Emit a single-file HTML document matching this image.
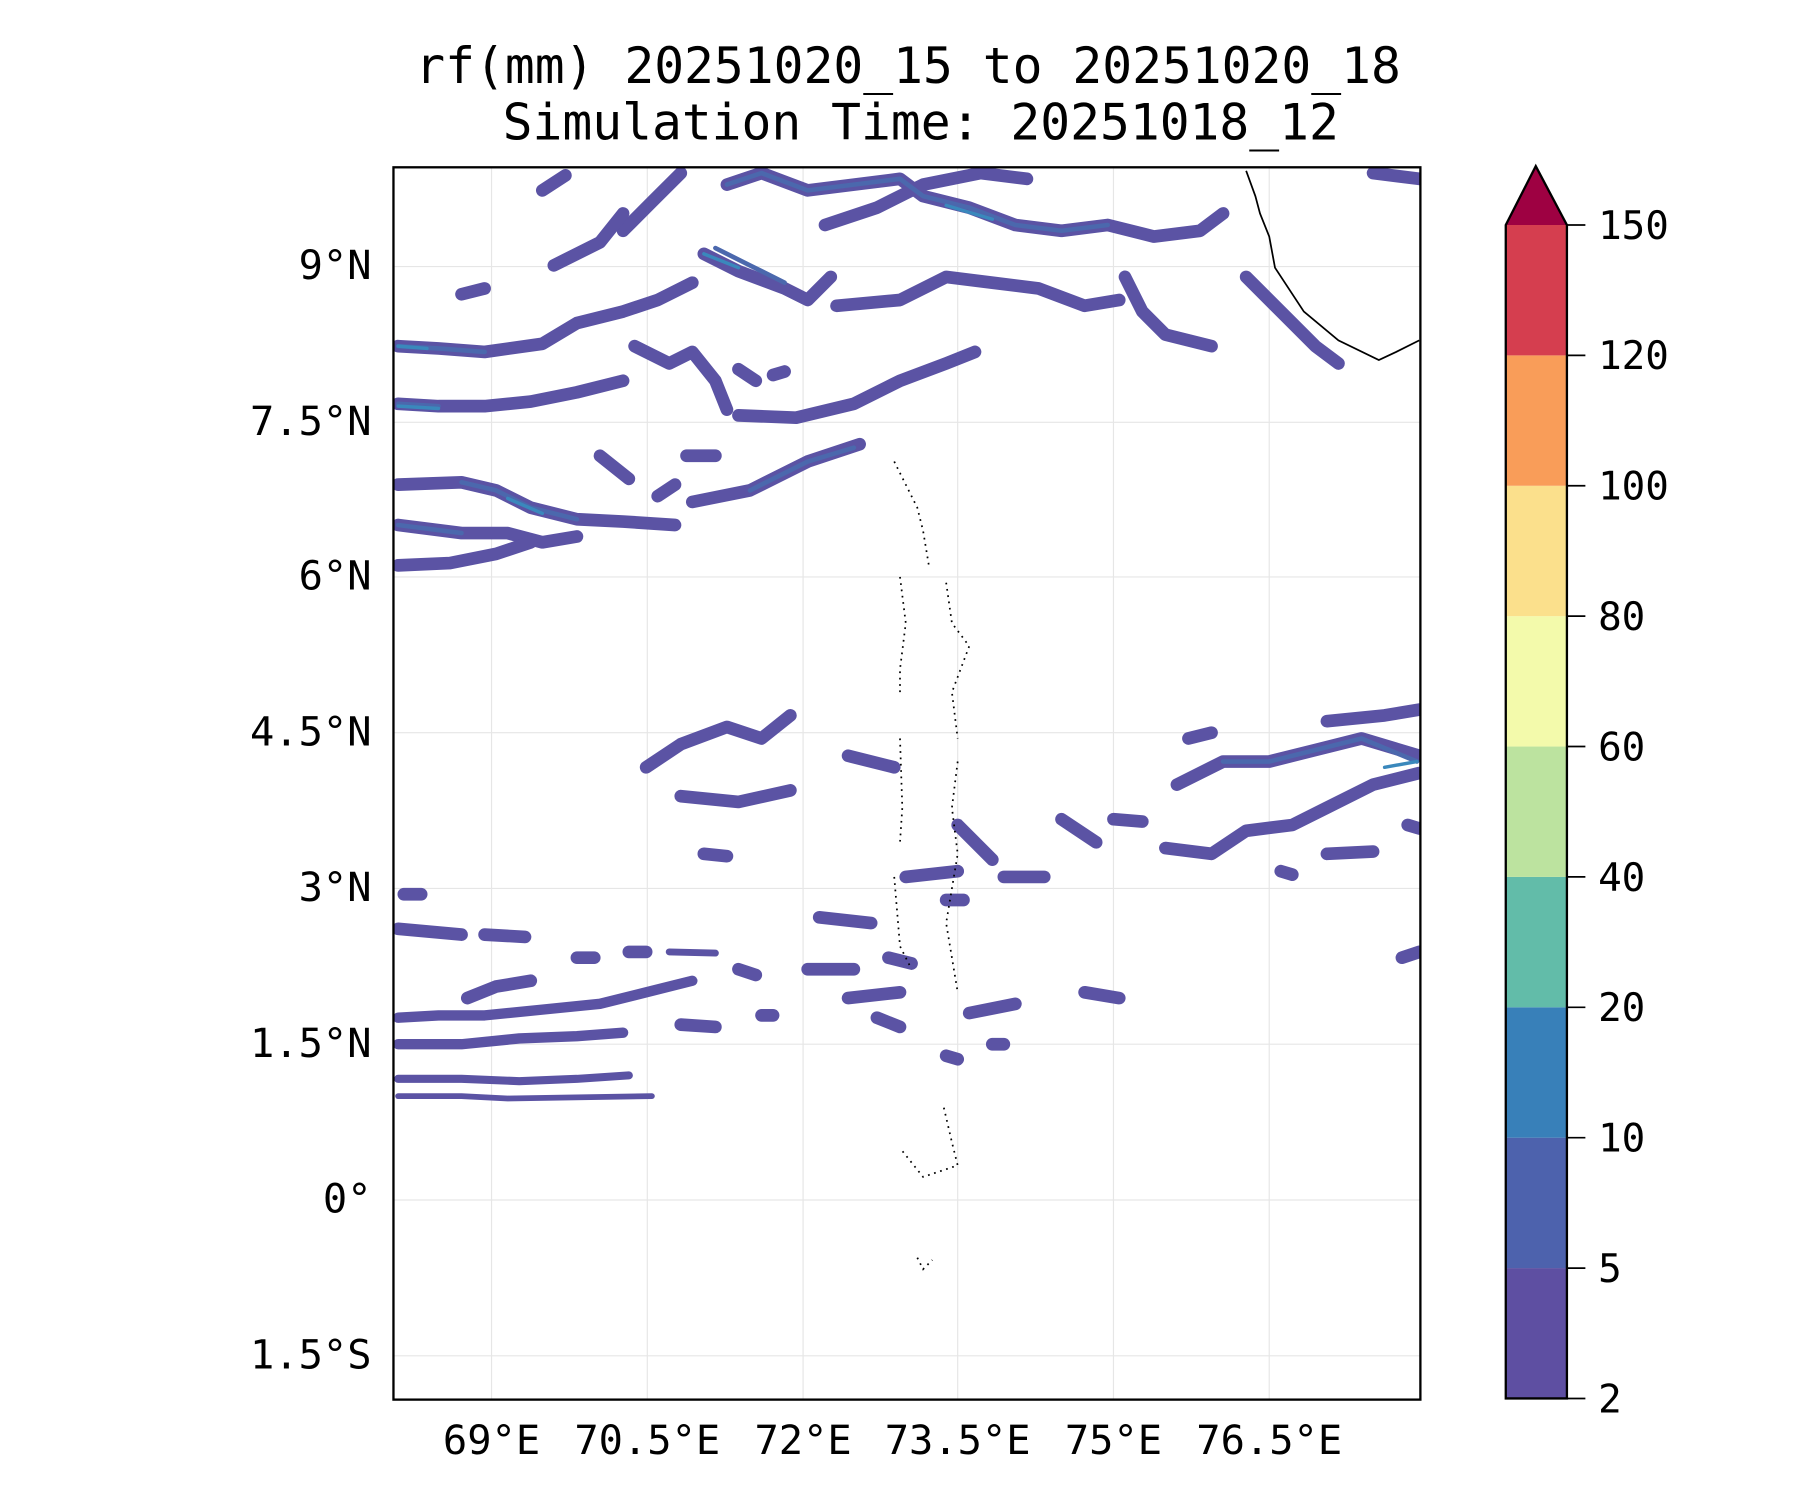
<!DOCTYPE html>
<html><head><meta charset="utf-8"><style>html,body{margin:0;padding:0;background:#fff}svg{display:block}</style></head>
<body>
<svg width="1800" height="1500" viewBox="0 0 1560 1300" xmlns="http://www.w3.org/2000/svg" font-family="DejaVu Sans Mono, Liberation Mono, monospace">
<rect width="1560" height="1300" fill="#fff"/>
<text x="787" y="72" font-size="43" text-anchor="middle">rf(mm) 20251020_15 to 20251020_18</text>
<text x="798" y="121" font-size="43" text-anchor="middle">Simulation Time: 20251018_12</text>
<defs><clipPath id="c"><rect x="341" y="145" width="890" height="1068"/></clipPath></defs>
<g stroke="#e6e6e6" stroke-width="1">
<line x1="426" y1="145" x2="426" y2="1213"/><line x1="561" y1="145" x2="561" y2="1213"/><line x1="696" y1="145" x2="696" y2="1213"/><line x1="830" y1="145" x2="830" y2="1213"/><line x1="965" y1="145" x2="965" y2="1213"/><line x1="1100" y1="145" x2="1100" y2="1213"/>
<line x1="341" y1="231" x2="1231" y2="231"/><line x1="341" y1="366" x2="1231" y2="366"/><line x1="341" y1="500" x2="1231" y2="500"/><line x1="341" y1="635" x2="1231" y2="635"/><line x1="341" y1="770" x2="1231" y2="770"/><line x1="341" y1="905" x2="1231" y2="905"/><line x1="341" y1="1040" x2="1231" y2="1040"/><line x1="341" y1="1175" x2="1231" y2="1175"/>
</g>
<g clip-path="url(#c)" fill="none" stroke-linecap="round" stroke-linejoin="round">
<g stroke="#5b53a4" stroke-width="11">
<polyline points="540,200 565,175 590,150"/><polyline points="470,165 490,152"/>
<polyline points="630,160 660,150 700,165 740,160 780,155 800,170 840,180 880,195 920,200 960,195 1000,205 1040,200 1060,185"/>
<polyline points="715,195 760,180 800,160 850,150 890,155"/>
<polyline points="610,220 640,235 680,250 700,260 720,240"/>
<polyline points="725,265 780,260 820,240 860,245 900,250 940,265 970,260"/>
<polyline points="975,240 990,270 1010,290 1050,300"/>
<polyline points="1080,240 1110,270 1140,300 1160,315"/>
<polyline points="345,300 380,302 420,305 470,298 500,280 540,270 570,260 600,245"/>
<polyline points="480,230 520,210 540,185"/><polyline points="400,255 420,250"/>
<polyline points="345,350 380,352 420,352 460,348 500,340 540,330"/>
<polyline points="550,300 580,315 600,305 620,330 630,355"/>
<polyline points="640,360 690,362 740,350 780,330 820,315 845,305"/>
<polyline points="345,420 400,418 430,425 460,440 500,450 540,452 585,455"/>
<polyline points="600,435 650,425 700,400 745,385"/>
<polyline points="345,455 400,462 440,462 470,470 500,465"/>
<polyline points="345,490 390,488 430,480 460,470"/>
<polyline points="520,395 545,415"/><polyline points="1190,150 1230,155"/>
<polyline points="640,320 655,330"/><polyline points="670,325 680,322"/><polyline points="595,395 620,395"/><polyline points="570,430 585,420"/>
<polyline points="560,665 590,645 630,630 660,640 685,620"/>
<polyline points="590,690 640,695 685,685"/><polyline points="735,655 775,665"/>
<polyline points="920,710 950,730"/><polyline points="965,710 990,712"/>
<polyline points="1010,735 1050,740 1080,720 1120,715 1150,700 1190,680 1230,670"/>
<polyline points="1020,680 1060,660 1100,660 1140,650 1180,640 1230,655"/>
<polyline points="1030,640 1050,635"/><polyline points="1150,625 1200,620 1230,615"/>
<polyline points="1150,740 1190,738"/><polyline points="785,760 830,755"/>
<polyline points="710,795 755,800"/><polyline points="345,805 400,810"/><polyline points="420,810 455,812"/>
<polyline points="350,775 365,775"/><polyline points="405,865 430,855 460,850"/>
<polyline points="345,882 380,880 420,880 470,875 520,870 560,860 600,850" stroke-width="9"/>
<polyline points="345,905 400,905 450,900 500,898 540,895" stroke-width="9"/>
<polyline points="345,935 400,935 450,937 500,935 545,932" stroke-width="7"/>
<polyline points="345,950 400,950 440,952 565,950" stroke-width="5"/>
<polyline points="500,830 515,830"/><polyline points="545,825 560,825"/><polyline points="580,825 620,826" stroke-width="6"/>
<polyline points="640,840 655,845"/><polyline points="700,840 740,840"/><polyline points="735,865 780,860"/>
<polyline points="590,888 620,890"/><polyline points="760,882 780,890"/><polyline points="820,780 835,780"/>
<polyline points="830,715 860,745"/><polyline points="870,760 905,760"/><polyline points="820,915 830,918"/>
<polyline points="940,860 970,865"/><polyline points="860,905 870,905"/><polyline points="840,878 880,870"/>
<polyline points="660,880 670,880"/><polyline points="1110,755 1120,758"/><polyline points="770,830 790,835"/>
<polyline points="1220,715 1230,718"/><polyline points="1215,830 1230,825"/><polyline points="610,740 630,742"/>
</g>
<g stroke="#4b68ad" stroke-width="4">
<polyline points="630,160 660,150 700,165 740,160 780,155 800,170 840,180 880,195 920,200 960,195"/>
<polyline points="345,300 380,302 420,305"/><polyline points="345,350 380,352"/>
<polyline points="400,418 430,425 460,440 500,450"/><polyline points="620,215 650,230 680,245"/>
<polyline points="650,425 700,400 740,388"/><polyline points="1060,660 1100,660 1140,650 1180,640 1228,660"/>
<polyline points="345,455 400,462"/>
</g>
<g stroke="#3a88bc" stroke-width="3">
<polyline points="345,300 370,302"/><polyline points="345,352 380,354"/><polyline points="440,432 470,445"/>
<polyline points="820,178 860,190"/><polyline points="1200,665 1228,660"/><polyline points="610,220 640,232"/>
</g>
</g>
<g fill="none" stroke="#000" stroke-width="1.5">
<polyline points="1080,148 1088,170 1092,185 1100,205 1105,232 1130,270 1160,295 1195,312 1210,305 1230,295"/>
</g>
<g fill="none" stroke="#000" stroke-width="1.5" stroke-dasharray="1.5 4">
<polyline points="775,400 785,420 795,440 800,460 805,490"/><polyline points="780,500 785,540 780,580 780,600"/>
<polyline points="820,505 825,540 840,560 825,600 830,640"/><polyline points="780,640 782,700 780,730"/>
<polyline points="830,660 825,700 830,740 820,800 830,860"/><polyline points="775,760 780,820 790,840"/>
<polyline points="818,960 825,990 830,1010 800,1020 780,995"/><polyline points="795,1090 800,1100 808,1092"/>
</g>
<rect x="341" y="145" width="890" height="1068" fill="none" stroke="#000" stroke-width="2"/>
<g font-size="35" text-anchor="end">
<text x="322" y="242">9°N</text><text x="322" y="377">7.5°N</text><text x="322" y="511">6°N</text><text x="322" y="646">4.5°N</text><text x="322" y="781">3°N</text><text x="322" y="916">1.5°N</text><text x="322" y="1051">0°</text><text x="322" y="1186">1.5°S</text>
</g>
<g font-size="35" text-anchor="middle">
<text x="426" y="1260">69°E</text><text x="561" y="1260">70.5°E</text><text x="696" y="1260">72°E</text><text x="830" y="1260">73.5°E</text><text x="965" y="1260">75°E</text><text x="1100" y="1260">76.5°E</text>
</g>
<rect x="1305" y="1099" width="53" height="113" fill="#5e4fa2"/>
<rect x="1305" y="986" width="53" height="113" fill="#4d62ad"/>
<rect x="1305" y="873" width="53" height="113" fill="#3880b9"/>
<rect x="1305" y="760" width="53" height="113" fill="#62bca9"/>
<rect x="1305" y="647" width="53" height="113" fill="#bce39f"/>
<rect x="1305" y="534" width="53" height="113" fill="#f3faab"/>
<rect x="1305" y="421" width="53" height="113" fill="#fbe08c"/>
<rect x="1305" y="308" width="53" height="113" fill="#f99d59"/>
<rect x="1305" y="195" width="53" height="113" fill="#d53e4f"/>
<polygon points="1305,195 1331,144 1358,195" fill="#9e0142"/>
<polygon points="1305,1212 1305,195 1331,144 1358,195 1358,1212" fill="none" stroke="#000" stroke-width="2"/>
<g stroke="#000" stroke-width="1.5">
<line x1="1358" y1="195" x2="1374" y2="195"/><line x1="1358" y1="308" x2="1374" y2="308"/><line x1="1358" y1="421" x2="1374" y2="421"/><line x1="1358" y1="534" x2="1374" y2="534"/><line x1="1358" y1="647" x2="1374" y2="647"/><line x1="1358" y1="760" x2="1374" y2="760"/><line x1="1358" y1="873" x2="1374" y2="873"/><line x1="1358" y1="986" x2="1374" y2="986"/><line x1="1358" y1="1099" x2="1374" y2="1099"/><line x1="1358" y1="1212" x2="1374" y2="1212"/>
</g>
<g font-size="34">
<text x="1385" y="207">150</text><text x="1385" y="320">120</text><text x="1385" y="433">100</text><text x="1385" y="546">80</text><text x="1385" y="659">60</text><text x="1385" y="772">40</text><text x="1385" y="885">20</text><text x="1385" y="998">10</text><text x="1385" y="1111">5</text><text x="1385" y="1224">2</text>
</g>
</svg>
</body></html>
